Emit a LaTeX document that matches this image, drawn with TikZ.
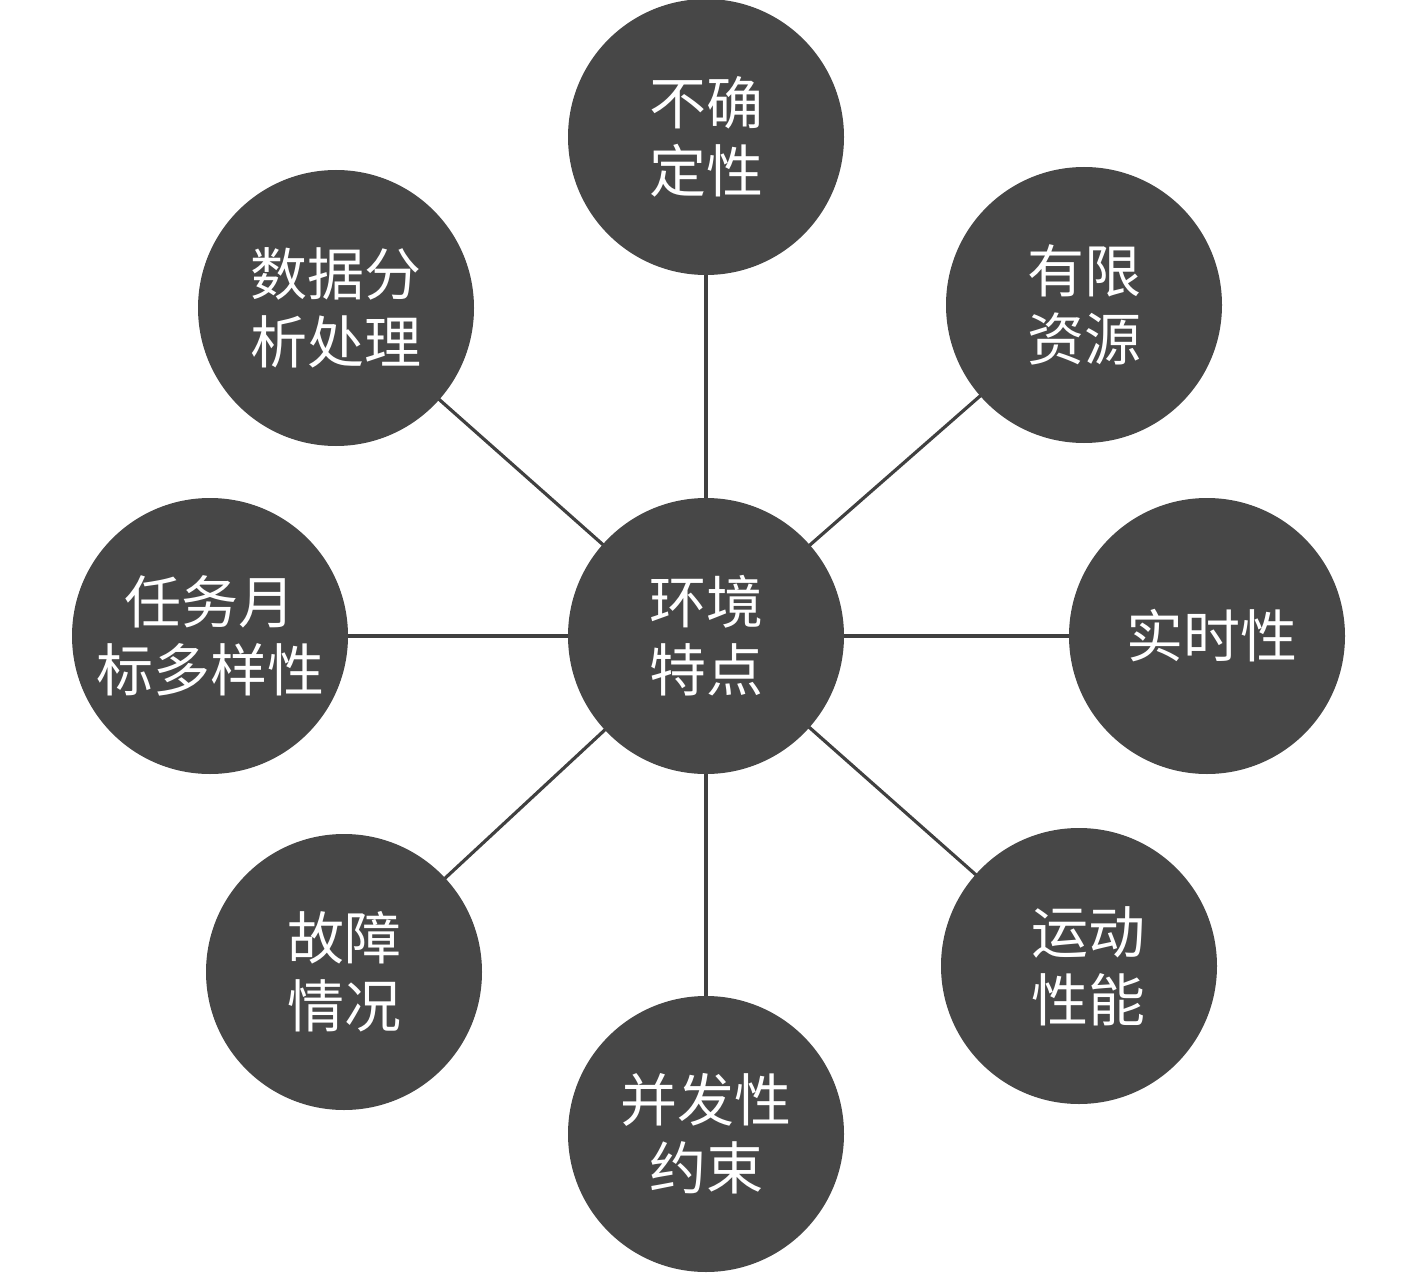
\documentclass[tikz,border=0pt]{standalone}
\usepackage{fontspec}
\usetikzlibrary{backgrounds}
\newfontfamily\cjk{Noto Sans CJK SC}
\definecolor{bubble}{HTML}{474747}
\definecolor{link}{HTML}{404040}
\begin{document}
\begin{tikzpicture}[x=1pt,y=-1pt,
  bub/.style={circle,fill=bubble,minimum size=276pt,inner sep=0pt,text=white,
    font=\cjk\fontsize{57}{68}\selectfont,align=center},
  conn/.style={draw=link,line width=3.2pt}]
\useasboundingbox (0,0) rectangle (1417,1273);
\node[bub] (center) at (706,636) {环境\\特点};
\node[bub] (top) at (706,137) {不确\\定性};
\node[bub] (r1) at (1084,305) {有限\\资源};
\node[bub] (r2) at (1207,636) {\hspace*{10pt}实时性};
\node[bub] (r3) at (1079,966) {\hspace*{18pt}运动\\\hspace*{18pt}性能};
\node[bub] (b) at (706,1134) {并发性\\约束};
\node[bub] (l3) at (344,972) {故障\\情况};
\node[bub] (l2) at (210,636) {任务月\\标多样性};
\node[bub] (l1) at (336,308) {数据分\\析处理};
\begin{scope}[on background layer]
\foreach \p in {top,r1,r2,r3,b,l3,l2,l1} \draw[conn] (center.center) -- (\p.center);
\end{scope}
\end{tikzpicture}
\end{document}
